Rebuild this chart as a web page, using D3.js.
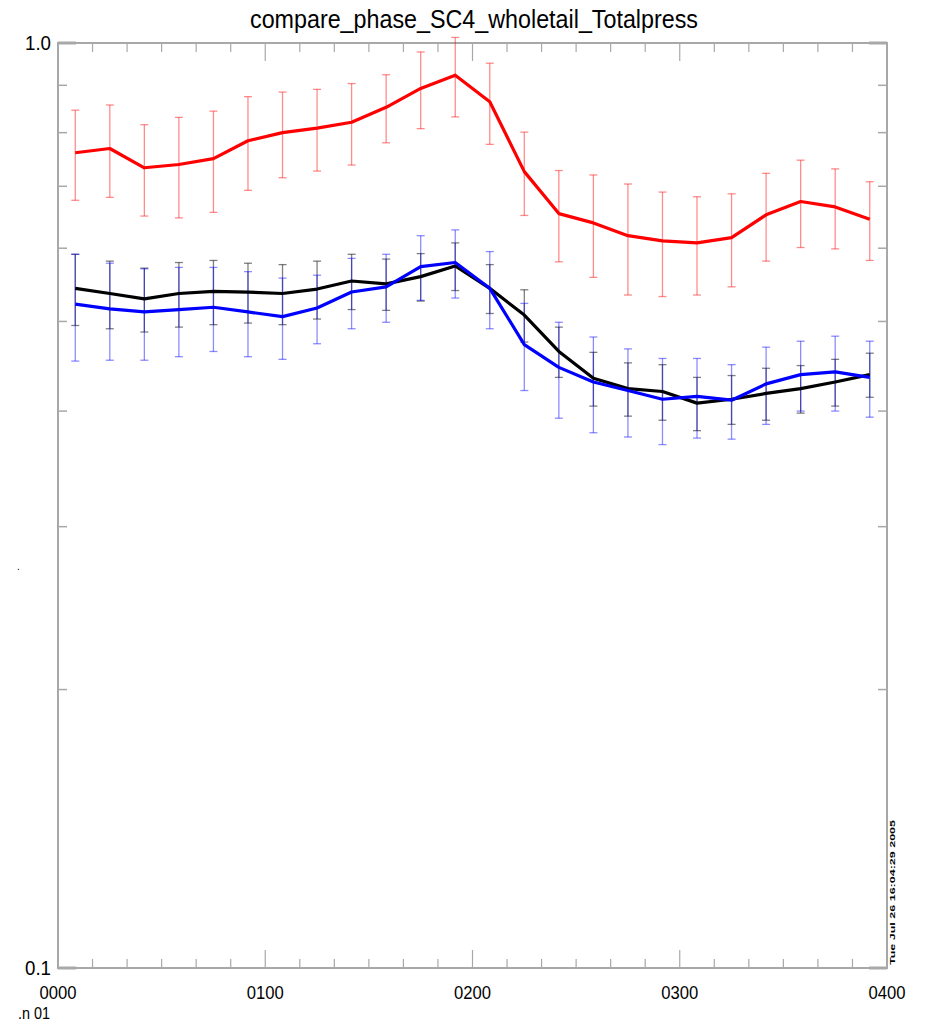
<!DOCTYPE html>
<html>
  <head>
    <meta charset="utf-8">
    <title>compare_phase_SC4_wholetail_Totalpress</title>
    <script src="https://d3js.org/d3.v7.min.js"></script>
    <style>
      body { margin: 0; background: #fff; }
      text { font-family: "Liberation Sans Narrow", "Liberation Sans", sans-serif; fill: #000; }
    </style>
  </head>
  <body>
    <svg width="925" height="1025"></svg>

    <script>
      // time of each sample, minutes after 0000
      const minutes = [5, 15, 25, 35, 45, 55, 65, 75, 85, 95, 105, 115,
                       125, 135, 145, 155, 165, 175, 185, 195, 205, 215, 225, 235];

      const red = [0.761, 0.769, 0.733, 0.739, 0.750, 0.784, 0.800, 0.809, 0.821, 0.852, 0.893, 0.923,
                   0.864, 0.726, 0.654, 0.639, 0.619, 0.611, 0.608, 0.616, 0.652, 0.674, 0.665, 0.645];
      const redErr = [0.085, 0.088, 0.083, 0.092, 0.094, 0.091, 0.085, 0.082, 0.083, 0.072, 0.085, 0.091,
                      0.087, 0.075, 0.074, 0.081, 0.085, 0.079, 0.074, 0.071, 0.071, 0.073, 0.066, 0.063];

      const black = [0.543, 0.536, 0.529, 0.536, 0.539, 0.538, 0.536, 0.542, 0.553, 0.549, 0.559, 0.574,
                     0.543, 0.508, 0.464, 0.434, 0.423, 0.420, 0.408, 0.412, 0.418, 0.423, 0.430, 0.438];
      const blackErr = [0.048, 0.045, 0.042, 0.043, 0.043, 0.040, 0.040, 0.039, 0.038, 0.035, 0.033, 0.034,
                        0.033, 0.033, 0.029, 0.029, 0.028, 0.029, 0.027, 0.025, 0.027, 0.025, 0.025, 0.024];

      const blue = [0.522, 0.516, 0.512, 0.515, 0.518, 0.512, 0.506, 0.517, 0.538, 0.545, 0.573, 0.579,
                    0.543, 0.472, 0.446, 0.430, 0.421, 0.412, 0.415, 0.411, 0.428, 0.438, 0.441, 0.435];
      const blueErr = [0.069, 0.062, 0.058, 0.057, 0.054, 0.054, 0.051, 0.044, 0.047, 0.046, 0.046, 0.049,
                       0.052, 0.051, 0.053, 0.051, 0.046, 0.044, 0.041, 0.038, 0.041, 0.038, 0.041, 0.041];

      const xMajor = [0, 60, 120, 180, 240];
      const xLabels = ["0000", "0100", "0200", "0300", "0400"];
      const xMinor = [10, 20, 30, 40, 50, 70, 80, 90, 100, 110, 130, 140, 150, 160, 170,
                      190, 200, 210, 220, 230];
      const yMajor = [0.1, 1.0];
      const yLabels = ["0.1", "1.0"];
      const yMinor = [0.2, 0.3, 0.4, 0.5, 0.6, 0.7, 0.8, 0.9];

      const svg = d3.select("svg");
      const plotL = 58, plotR = 887, plotT = 43, plotB = 968;

      const x = d3.scaleLinear().domain([0, 240]).range([plotL, plotR]);
      const y = d3.scaleLog().domain([0.1, 1.0]).range([plotB, plotT]);

      const axisColor = "#a8a8a8";

      // frame
      svg.append("rect")
        .attr("x", plotL).attr("y", plotT)
        .attr("width", plotR - plotL).attr("height", plotB - plotT)
        .attr("fill", "none")
        .attr("stroke", axisColor)
        .attr("stroke-width", 2);

      // x ticks, bottom and top
      const xTicks = xMajor.map(d => ({ v: d, len: 18 }))
        .concat(xMinor.map(d => ({ v: d, len: 9 })));
      xTicks.forEach(t => {
        svg.append("line")
          .attr("x1", x(t.v)).attr("x2", x(t.v))
          .attr("y1", plotB).attr("y2", plotB - t.len)
          .attr("stroke", axisColor).attr("stroke-width", 1.2);
        svg.append("line")
          .attr("x1", x(t.v)).attr("x2", x(t.v))
          .attr("y1", plotT).attr("y2", plotT + t.len)
          .attr("stroke", axisColor).attr("stroke-width", 1.2);
      });

      // y ticks, left and right
      const yTicks = yMajor.map(d => ({ v: d, len: 18 }))
        .concat(yMinor.map(d => ({ v: d, len: 9 })));
      yTicks.forEach(t => {
        svg.append("line")
          .attr("x1", plotL).attr("x2", plotL + t.len)
          .attr("y1", y(t.v)).attr("y2", y(t.v))
          .attr("stroke", axisColor).attr("stroke-width", t.len > 10 ? 3 : 1.5);
        svg.append("line")
          .attr("x1", plotR).attr("x2", plotR - t.len)
          .attr("y1", y(t.v)).attr("y2", y(t.v))
          .attr("stroke", axisColor).attr("stroke-width", t.len > 10 ? 3 : 1.5);
      });

      // tick labels (narrow, tall glyphs like the original plot)
      svg.selectAll(".xlab")
        .data(xMajor)
        .enter()
        .append("text")
          .attr("x", d => x(d))
          .attr("y", 999)
          .attr("text-anchor", "middle")
          .attr("font-size", 19)
          .attr("textLength", 37)
          .attr("lengthAdjust", "spacingAndGlyphs")
          .text((d, i) => xLabels[i]);

      svg.selectAll(".ylab")
        .data(yMajor)
        .enter()
        .append("text")
          .attr("x", 51)
          .attr("y", d => y(d) + 7)
          .attr("text-anchor", "end")
          .attr("font-size", 21)
          .attr("textLength", 26)
          .attr("lengthAdjust", "spacingAndGlyphs")
          .text((d, i) => yLabels[i]);

      svg.append("text")
        .attr("x", 18).attr("y", 1019)
        .attr("font-size", 17)
        .attr("textLength", 32)
        .attr("lengthAdjust", "spacingAndGlyphs")
        .text(".n 01");

      svg.append("text")
        .attr("x", 17).attr("y", 570)
        .attr("font-size", 10)
        .text(".");

      // title
      svg.append("text")
        .attr("x", 474).attr("y", 28)
        .attr("text-anchor", "middle")
        .attr("font-size", 25)
        .attr("textLength", 448)
        .attr("lengthAdjust", "spacingAndGlyphs")
        .text("compare_phase_SC4_wholetail_Totalpress");

      // timestamp
      svg.append("text")
        .attr("transform", "translate(895,965) rotate(-90)")
        .attr("font-size", 8)
        .attr("font-weight", "bold")
        .attr("textLength", 145)
        .attr("lengthAdjust", "spacingAndGlyphs")
        .text("Tue Jul 26 16:04:29 2005");

      // error bars then lines
      const series = [
        { vals: red, err: redErr, color: "#ff0000", barOpacity: 0.45 },
        { vals: black, err: blackErr, color: "#000000", barOpacity: 0.5 },
        { vals: blue, err: blueErr, color: "#0000ff", barOpacity: 0.45 }
      ];

      const line = d3.line()
        .x((d, i) => x(minutes[i]))
        .y(d => y(d));

      series.forEach(s => {
        const g = svg.append("g")
          .attr("stroke", s.color)
          .attr("stroke-opacity", s.barOpacity)
          .attr("stroke-width", 1.3);
        s.vals.forEach((v, i) => {
          const cx = x(minutes[i]);
          const hi = y(v + s.err[i]);
          const lo = y(v - s.err[i]);
          g.append("line").attr("x1", cx).attr("x2", cx).attr("y1", hi).attr("y2", lo);
          g.append("line").attr("x1", cx - 4).attr("x2", cx + 4).attr("y1", hi).attr("y2", hi);
          g.append("line").attr("x1", cx - 4).attr("x2", cx + 4).attr("y1", lo).attr("y2", lo);
        });
      });

      series.forEach(s => {
        svg.append("path")
          .datum(s.vals)
          .attr("d", line)
          .attr("fill", "none")
          .attr("stroke", s.color)
          .attr("stroke-width", 3.2)
          .attr("stroke-linejoin", "round");
      });
    </script>
  </body>
</html>
